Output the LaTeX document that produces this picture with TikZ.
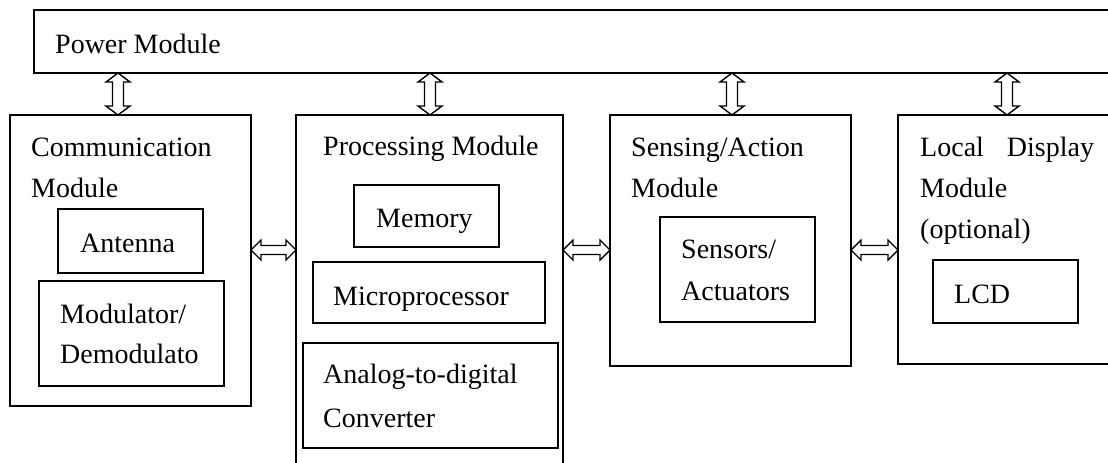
\documentclass[tikz,border=0pt]{standalone}
\usepackage{fontspec}
\setmainfont{Liberation Serif}
\usetikzlibrary{calc}
\begin{document}
\begin{tikzpicture}[x=1pt,y=-1pt,
  box/.style 2 args={draw, line width=1.6pt, anchor=north west, inner sep=0pt, outer sep=0pt, minimum width=#1, minimum height=#2},
  txt/.style={anchor=base west, inner sep=0pt, font=\fontsize{28}{41}\selectfont},
  vdarrow/.style={line width=1.4pt, line join=miter, to path={let \p1=(\tikztostart), \p2=(\tikztotarget) in
    (\x1,\y1) -- (\x1+12pt,\y1-9pt) -- (\x1+5.5pt,\y1-9pt) -- (\x1+5.5pt,\y2+9pt) -- (\x1+12pt,\y2+9pt) -- (\x1,\y2)
    -- (\x1-12pt,\y2+9pt) -- (\x1-5.5pt,\y2+9pt) -- (\x1-5.5pt,\y1-9pt) -- (\x1-12pt,\y1-9pt) -- cycle}},
  hdarrow/.style={line width=1.4pt, line join=miter, to path={let \p1=(\tikztostart), \p2=(\tikztotarget) in
    (\x1,\y1) -- (\x1+10pt,\y1+10pt) -- (\x1+10pt,\y1+4.5pt) -- (\x2-10pt,\y1+4.5pt) -- (\x2-10pt,\y1+10pt) -- (\x2,\y1)
    -- (\x2-10pt,\y1-10pt) -- (\x2-10pt,\y1-4.5pt) -- (\x1+10pt,\y1-4.5pt) -- (\x1+10pt,\y1-10pt) -- cycle}}
]
\useasboundingbox (0,0) rectangle (1108,463);
\clip (0,0) rectangle (1108,463);

% boxes
\node[box={1150}{63}] (power) at (34,10) {};
\node[box={241}{291}] (comm) at (10,115) {};
\node[box={145}{64}] (ant) at (58,209) {};
\node[box={185}{105}] (mod) at (39,281) {};
\node[box={267}{400}] (proc) at (296,115) {};
\node[box={145}{62}] (mem) at (354,185) {};
\node[box={232}{61}] (micro) at (313,262) {};
\node[box={255}{105}] (adc) at (303,343) {};
\node[box={241}{251}] (sens) at (610,115) {};
\node[box={155}{105}] (sa) at (660,217) {};
\node[box={300}{249}] (loc) at (898,115) {};
\node[box={145}{63}] (lcd) at (933,260) {};

% texts
\node[txt] (tpower) at (55,53) {Power Module};
\node[txt] (tcomm1) at (31,156) {Communication};
\node[txt] (tcomm2) at (31,197) {Module};
\node[txt] (tant) at (80,252) {Antenna};
\node[txt] (tmod1) at (60,323) {Modulator/};
\node[txt] (tmod2) at (60,363) {Demodulato};
\node[txt] (tproc) at (323,155) {Processing Module};
\node[txt] (tmem) at (376,227) {Memory};
\node[txt] (tmicro) at (333,305) {Microprocessor};
\node[txt] (tadc1) at (323,383) {Analog-to-digital};
\node[txt] (tadc2) at (323,427) {Converter};
\node[txt] (tsens1) at (631,156) {Sensing/Action};
\node[txt] (tsens2) at (631,197) {Module};
\node[txt] (tsa1) at (681,258) {Sensors/};
\node[txt] (tsa2) at (681,300) {Actuators};
\node[txt] (tloc1) at (920,156) {Local\hspace{23pt}Display};
\node[txt] (tloc2) at (920,197) {Module};
\node[txt] (tloc3) at (920,238) {(optional)};
\node[txt] (tlcd) at (954,303) {LCD};

% connectors
\coordinate (v1) at (118,0);
\coordinate (v2) at (430,0);
\coordinate (v3) at (732,0);
\coordinate (v4) at (1007,0);
\coordinate (hy) at (0,250);
\draw[vdarrow] (power.south -| v1) to (comm.north -| v1);
\draw[vdarrow] (power.south -| v2) to (proc.north -| v2);
\draw[vdarrow] (power.south -| v3) to (sens.north -| v3);
\draw[vdarrow] (power.south -| v4) to (loc.north -| v4);
\draw[hdarrow] (comm.east |- hy) to (proc.west |- hy);
\draw[hdarrow] (proc.east |- hy) to (sens.west |- hy);
\draw[hdarrow] (sens.east |- hy) to (loc.west |- hy);
\end{tikzpicture}
\end{document}
